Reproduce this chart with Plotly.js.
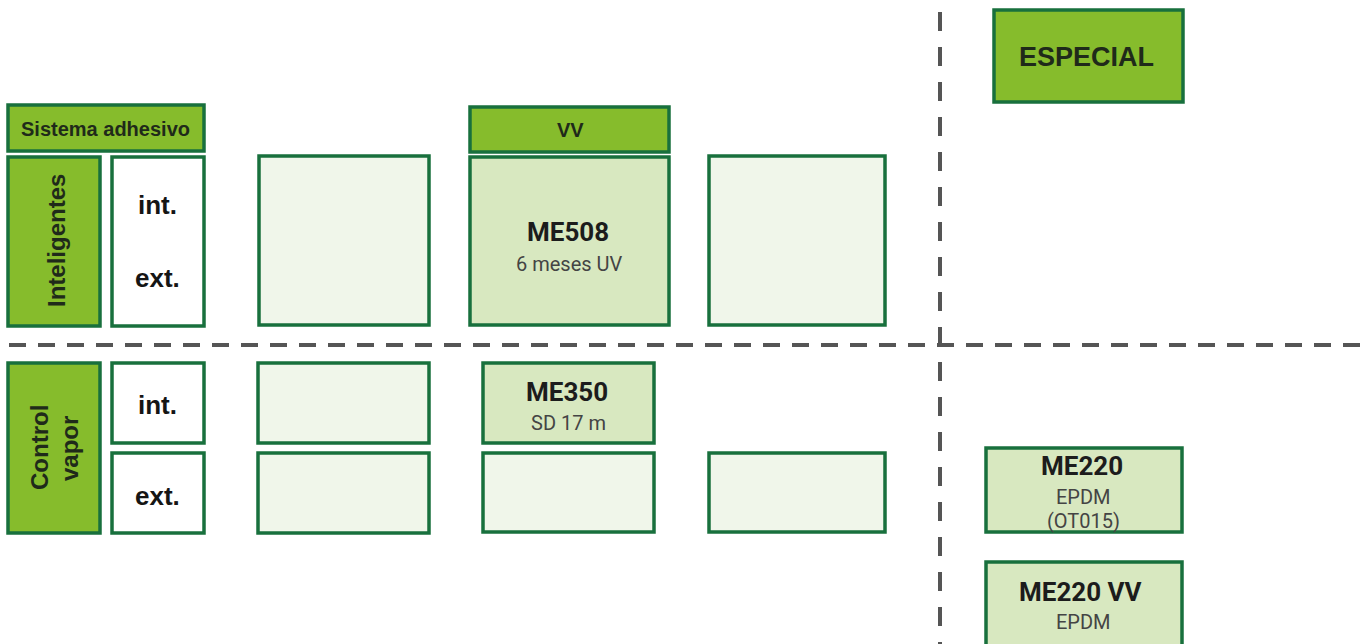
<!DOCTYPE html>
<html>
<head>
<meta charset="utf-8">
<script src="https://cdn.plot.ly/plotly-3.0.1.min.js"></script>
<style>
html,body{margin:0;padding:0;background:#fff;}
#chart{width:1367px;height:644px;}
</style>
</head>
<body>
<div id="chart"></div>
<script>
// ---- content (text of the diagram) ----
const headers = ["Sistema adhesivo", "VV", "ESPECIAL"];
const groups = ["Inteligentes", "Control", "vapor"];
const sides = ["int.", "ext.", "int.", "ext."];
const products = ["ME508", "ME350", "ME220", "ME220 VV"];
const productNotes = [["6 meses UV"], ["SD 17 m"], ["EPDM", "(OT015)"], ["EPDM"]];

// ---- layout geometry (pixel-space axis units) ----
const GREEN = "#86bc2c", LIGHT = "#d8e8c0", PALE = "#f0f6ea", WHITE = "#ffffff";
const BORDER = "#18703d";

const headerBoxes = [[8,204,105,151],[470,669,107,152],[994,1183,10,102]];
const headerText = [[105.5,129,20],[570,130,20],[1086,57,27]];
const groupBoxes = [[8,100,157,326],[8,100,363,533]];
const groupText = [[56,241],[39,448],[69,449]];
const sideBoxes = [[112,204,157,326],[112,204,363,443],[112,204,453,533]];
const sideText = [[157.5,205],[157.5,278],[157.5,405],[157.5,496]];
const emptyBoxes = [[259,429,156,325],[709,885,156,325],[258,429,363,443],[258,429,453,533],[483,654,453,532],[709,885,453,532]];
const productBoxes = [[470,669,157,325],[483,654,363,443],[986,1182,448,532],[986,1182,562,650]];
const productText = [[568,232],[567,392],[1082,466],[1080,592]];
const noteText = [[[569,263.5]],[[568,422.5]],[[1083,497],[1083,521]],[[1083,622]]];

const shapes = [];
function box(b, fill){
  shapes.push({type:"rect", xref:"x", yref:"y", x0:b[0], x1:b[1], y0:b[2], y1:b[3],
    fillcolor:fill, line:{color:BORDER, width:3.5}, layer:"below"});
}
// dashed separators
shapes.push({type:"line", xref:"x", yref:"y", x0:9, x1:1367, y0:345, y1:345,
  line:{color:"#555555", width:4, dash:"17px,12px"}});
shapes.push({type:"line", xref:"x", yref:"y", x0:940, x1:940, y0:12, y1:644,
  line:{color:"#555555", width:4, dash:"19px,16px"}});

headerBoxes.forEach(b=>box(b, GREEN));
groupBoxes.forEach(b=>box(b, GREEN));
sideBoxes.forEach(b=>box(b, WHITE));
emptyBoxes.forEach(b=>box(b, PALE));
productBoxes.forEach(b=>box(b, LIGHT));

const ann = [];
function txt(x, y, t, size, family, color, angle){
  ann.push({x:x, y:y, xref:"x", yref:"y", text:t, showarrow:false,
    xanchor:"center", yanchor:"middle", textangle:angle||0,
    font:{size:size, family:family, color:color}});
}
const ARIALB = "Liberation Sans", DIN = "Roboto";
headers.forEach((h,i)=>txt(headerText[i][0], headerText[i][1], "<b>"+h+"</b>", headerText[i][2], ARIALB, "#1f2a1a"));
groups.forEach((g,i)=>txt(groupText[i][0], groupText[i][1], "<b>"+g+"</b>", 24, ARIALB, "#1f2a1a", -90));
sides.forEach((s,i)=>txt(sideText[i][0], sideText[i][1], "<b>"+s+"</b>", 26, ARIALB, "#151515"));
products.forEach((p,i)=>{
  txt(productText[i][0], productText[i][1], "<b>"+p+"</b>", 26, DIN, "#1c1c1c");
  productNotes[i].forEach((n,j)=>txt(noteText[i][j][0], noteText[i][j][1], n, 20, DIN, "#444444"));
});

const layout = {
  width:1367, height:644,
  margin:{l:0,r:0,t:0,b:0,pad:0},
  paper_bgcolor:"#ffffff", plot_bgcolor:"#ffffff",
  showlegend:false,
  xaxis:{range:[0,1367], visible:false, fixedrange:true},
  yaxis:{range:[644,0], visible:false, fixedrange:true},
  shapes:shapes, annotations:ann
};
Plotly.newPlot("chart", [{x:[], y:[], type:"scatter", mode:"markers", hoverinfo:"skip"}], layout, {displayModeBar:false, staticPlot:true});
</script>
</body>
</html>
